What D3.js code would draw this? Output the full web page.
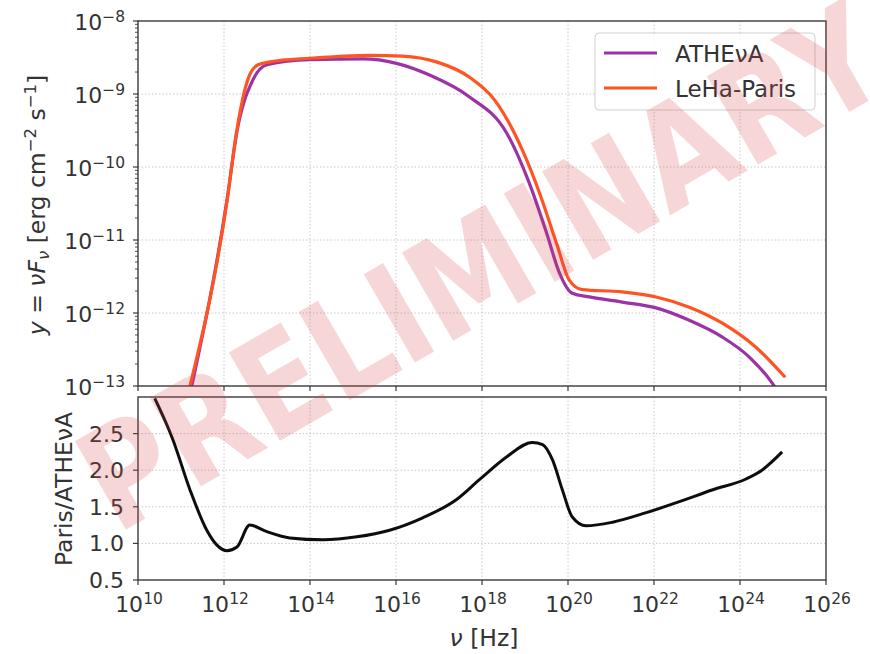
<!DOCTYPE html>
<html>
<head>
<meta charset="utf-8">
<script src="https://cdn.jsdelivr.net/npm/d3@7"></script>
<style>
  html, body { margin: 0; padding: 0; background: #fff; }
  svg { display: block; font-family: "DejaVu Sans", sans-serif; }
</style>
</head>
<body>
<svg id="chart" width="870" height="654"></svg>
<script>
// Spectral energy distributions: log10(nu / Hz) and log10(nu F_nu / erg cm^-2 s^-1)
const athenaLogNu   = [11.25, 12.07, 12.30, 12.67, 13.00, 14.00, 15.23, 16.01, 16.78, 17.71, 18.57, 19.10, 19.50, 19.80, 20.10, 20.50, 21.26, 22.05, 22.82, 23.59, 24.21, 24.75, 25.05];
const athenaLogFlux = [-13.0, -10.45, -9.52, -8.81, -8.60, -8.53, -8.52, -8.58, -8.74, -9.04, -9.53, -10.22, -10.90, -11.45, -11.73, -11.78, -11.85, -11.93, -12.10, -12.33, -12.60, -12.96, -13.24];

const parisLogNu   = [11.21, 12.07, 12.30, 12.55, 12.79, 13.07, 14.00, 15.39, 16.15, 16.94, 17.71, 18.29, 18.94, 19.34, 19.73, 20.03, 20.33, 21.26, 22.05, 22.82, 23.59, 24.37, 25.05];
const parisLogFlux = [-13.0, -10.47, -9.49, -8.81, -8.60, -8.56, -8.51, -8.47, -8.48, -8.56, -8.77, -9.08, -9.77, -10.36, -11.04, -11.55, -11.68, -11.71, -11.78, -11.92, -12.14, -12.47, -12.88];

// Ratio LeHa-Paris / ATHEvA
const ratioLogNu  = [10.39, 10.81, 11.21, 11.60, 11.83, 12.07, 12.30, 12.60, 13.00, 13.53, 14.30, 15.09, 15.85, 16.62, 17.41, 17.94, 18.57, 19.17, 19.41, 19.64, 19.87, 20.10, 20.42, 21.04, 21.82, 22.59, 23.35, 24.14, 24.51, 24.98];
const ratioValues = [2.98, 2.42, 1.73, 1.18, 0.98, 0.90, 0.95, 1.25, 1.16, 1.075, 1.05, 1.09, 1.18, 1.35, 1.60, 1.87, 2.18, 2.38, 2.35, 2.14, 1.73, 1.36, 1.24, 1.29, 1.42, 1.57, 1.73, 1.88, 2.00, 2.25];

// Axis ticks
const xTickExps    = [10, 12, 14, 16, 18, 20, 22, 24, 26];
const yTickExps    = [-8, -9, -10, -11, -12, -13];
const ratioTicks   = [0.5, 1.0, 1.5, 2.0, 2.5];
const seriesNames  = ["ATHEνA", "LeHa-Paris"];
const seriesColors = ["#9b30a6", "#ff5322"];

const svg = d3.select("#chart");
const L = 138, R = 826;
const topY0 = 21, topY1 = 386;
const botY0 = 397, botY1 = 580;

const x = d3.scaleLog().domain([1e10, 1e26]).range([L, R]);
const y = d3.scaleLog().domain([1e-13, 1e-8]).range([topY1, topY0]);
const yr = d3.scaleLinear().domain([0.5, 3.0]).range([botY1, botY0]);

const axisColor = "#3a3a3a";
const gridColor = "#c8c8c8";

const defs = svg.append("defs");
defs.append("clipPath").attr("id", "clipTop")
  .append("rect").attr("x", L).attr("y", topY0).attr("width", R - L).attr("height", topY1 - topY0);
defs.append("clipPath").attr("id", "clipBot")
  .append("rect").attr("x", L).attr("y", botY0).attr("width", R - L).attr("height", botY1 - botY0);
const soft = defs.append("filter").attr("id", "soft")
  .attr("filterUnits", "userSpaceOnUse")
  .attr("x", 0).attr("y", 0).attr("width", 870).attr("height", 654);
soft.append("feGaussianBlur").attr("stdDeviation", 0.6);

// ---------- grids ----------
function vGrid(y0, y1) {
  svg.append("g").selectAll("line").data(xTickExps.slice(1, -1)).join("line")
    .attr("x1", d => x(Math.pow(10, d))).attr("x2", d => x(Math.pow(10, d)))
    .attr("y1", y0).attr("y2", y1)
    .attr("stroke", gridColor).attr("stroke-width", 1).attr("stroke-dasharray", "1.5,2");
}
vGrid(topY0, topY1);
vGrid(botY0, botY1);
svg.append("g").selectAll("line").data(yTickExps.slice(1, -1)).join("line")
  .attr("x1", L).attr("x2", R)
  .attr("y1", d => y(Math.pow(10, d))).attr("y2", d => y(Math.pow(10, d)))
  .attr("stroke", gridColor).attr("stroke-width", 1).attr("stroke-dasharray", "1.5,2");
svg.append("g").selectAll("line").data(ratioTicks.slice(1)).join("line")
  .attr("x1", L).attr("x2", R)
  .attr("y1", d => yr(d)).attr("y2", d => yr(d))
  .attr("stroke", gridColor).attr("stroke-width", 1).attr("stroke-dasharray", "1.5,2");

// ---------- curves ----------
const sedLine = d3.line().curve(d3.curveMonotoneX)
  .x(d => x(Math.pow(10, d[0]))).y(d => y(Math.pow(10, d[1])));
const seds = [
  d3.zip(athenaLogNu, athenaLogFlux),
  d3.zip(parisLogNu, parisLogFlux)
];
const gTop = svg.append("g").attr("clip-path", "url(#clipTop)");
seds.forEach((s, i) => {
  gTop.append("path").datum(s).attr("d", sedLine)
    .attr("fill", "none").attr("stroke", seriesColors[i]).attr("stroke-width", 3.2)
    .attr("stroke-linejoin", "round").attr("filter", "url(#soft)");
});

const ratioLine = d3.line().curve(d3.curveMonotoneX)
  .x(d => x(Math.pow(10, d[0]))).y(d => yr(d[1]));
svg.append("g").attr("clip-path", "url(#clipBot)")
  .append("path").datum(d3.zip(ratioLogNu, ratioValues)).attr("d", ratioLine)
  .attr("fill", "none").attr("stroke", "#111").attr("stroke-width", 3)
  .attr("stroke-linejoin", "round").attr("filter", "url(#soft)");

// ---------- frames ----------
[[topY0, topY1], [botY0, botY1]].forEach(([a, b]) => {
  svg.append("rect").attr("x", L).attr("y", a).attr("width", R - L).attr("height", b - a)
    .attr("fill", "none").attr("stroke", axisColor).attr("stroke-width", 1.4);
});

// ---------- ticks ----------
const gTicks = svg.append("g").attr("stroke", axisColor).attr("stroke-width", 1.2);
[topY1, botY1].forEach(yb => {
  gTicks.selectAll(null).data(xTickExps).join("line")
    .attr("x1", d => x(Math.pow(10, d))).attr("x2", d => x(Math.pow(10, d)))
    .attr("y1", yb).attr("y2", yb + 5);
});
gTicks.selectAll(null).data(yTickExps).join("line")
  .attr("x1", L - 5).attr("x2", L)
  .attr("y1", d => y(Math.pow(10, d))).attr("y2", d => y(Math.pow(10, d)));
const minorY = [];
yTickExps.slice(1).forEach(e => { for (let k = 2; k <= 9; k++) minorY.push(k * Math.pow(10, e)); });
gTicks.selectAll(null).data(minorY).join("line")
  .attr("stroke-width", 0.9)
  .attr("x1", L - 3).attr("x2", L)
  .attr("y1", d => y(d)).attr("y2", d => y(d));
gTicks.selectAll(null).data(ratioTicks).join("line")
  .attr("x1", L - 5).attr("x2", L)
  .attr("y1", d => yr(d)).attr("y2", d => yr(d));

// ---------- tick labels ----------
const labelColor = "#333";
const fs = 22, sup = 15.5;
const gx = svg.append("g").attr("fill", labelColor).attr("font-size", fs);
xTickExps.forEach(e => {
  const t = gx.append("text").attr("x", x(Math.pow(10, e)) + 1).attr("y", 612).attr("text-anchor", "middle");
  t.append("tspan").text("10");
  t.append("tspan").attr("font-size", sup).attr("dy", -8).text(e);
});
const gy = svg.append("g").attr("fill", labelColor).attr("font-size", fs);
yTickExps.forEach(e => {
  const t = gy.append("text").attr("x", 125).attr("y", y(Math.pow(10, e)) + 9).attr("text-anchor", "end");
  t.append("tspan").text("10");
  t.append("tspan").attr("font-size", sup).attr("dy", -8).text("−" + Math.abs(e));
});
ratioTicks.forEach(v => {
  gy.append("text").attr("x", 124).attr("y", yr(v) + 8).attr("text-anchor", "end").text(v.toFixed(1));
});

// ---------- axis titles ----------
const tfs = 23.5, tsup = 16.5;
const yt = svg.append("text").attr("fill", labelColor).attr("font-size", tfs)
  .attr("transform", "translate(45,205) rotate(-90)").attr("text-anchor", "middle");
yt.append("tspan").attr("font-style", "italic").text("y");
yt.append("tspan").text(" = ");
yt.append("tspan").attr("font-style", "italic").text("νF");
yt.append("tspan").attr("font-style", "italic").attr("font-size", tsup).attr("dy", 4).text("ν");
yt.append("tspan").attr("dy", -4).text(" [erg cm");
yt.append("tspan").attr("font-size", tsup).attr("dy", -9).text("−2");
yt.append("tspan").attr("dy", 9).text(" s");
yt.append("tspan").attr("font-size", tsup).attr("dy", -9).text("−1");
yt.append("tspan").attr("dy", 9).text("]");

svg.append("text").attr("fill", labelColor).attr("font-size", tfs)
  .attr("transform", "translate(72,489) rotate(-90)").attr("text-anchor", "middle")
  .text("Paris/ATHEνA");

const xt = svg.append("text").attr("fill", labelColor).attr("font-size", tfs)
  .attr("x", 484).attr("y", 646).attr("text-anchor", "middle");
xt.append("tspan").attr("font-style", "italic").text("ν");
xt.append("tspan").text(" [Hz]");

// ---------- legend ----------
const lg = svg.append("g");
lg.append("rect").attr("x", 595).attr("y", 33).attr("width", 220).attr("height", 77)
  .attr("rx", 4).attr("fill", "#fff").attr("fill-opacity", 0.85)
  .attr("stroke", "#d0d0d0").attr("stroke-width", 1);
seriesNames.forEach((name, i) => {
  const yy = 53 + i * 35;
  lg.append("line").attr("x1", 604).attr("x2", 657).attr("y1", yy).attr("y2", yy)
    .attr("stroke", seriesColors[i]).attr("stroke-width", 3.2).attr("filter", "url(#soft)");
  lg.append("text").attr("x", 675).attr("y", yy + 9).attr("font-size", 23)
    .attr("fill", labelColor).text(name);
});

// ---------- watermark ----------
svg.append("text")
  .attr("transform", "translate(482,268) rotate(-30)")
  .attr("text-anchor", "middle").attr("dominant-baseline", "central")
  .attr("font-size", 140).attr("font-weight", "bold")
  .attr("textLength", 900).attr("lengthAdjust", "spacingAndGlyphs")
  .attr("fill", "rgb(215,70,70)").attr("fill-opacity", 0.22)
  .text("PRELIMINARY");
</script>
</body>
</html>
